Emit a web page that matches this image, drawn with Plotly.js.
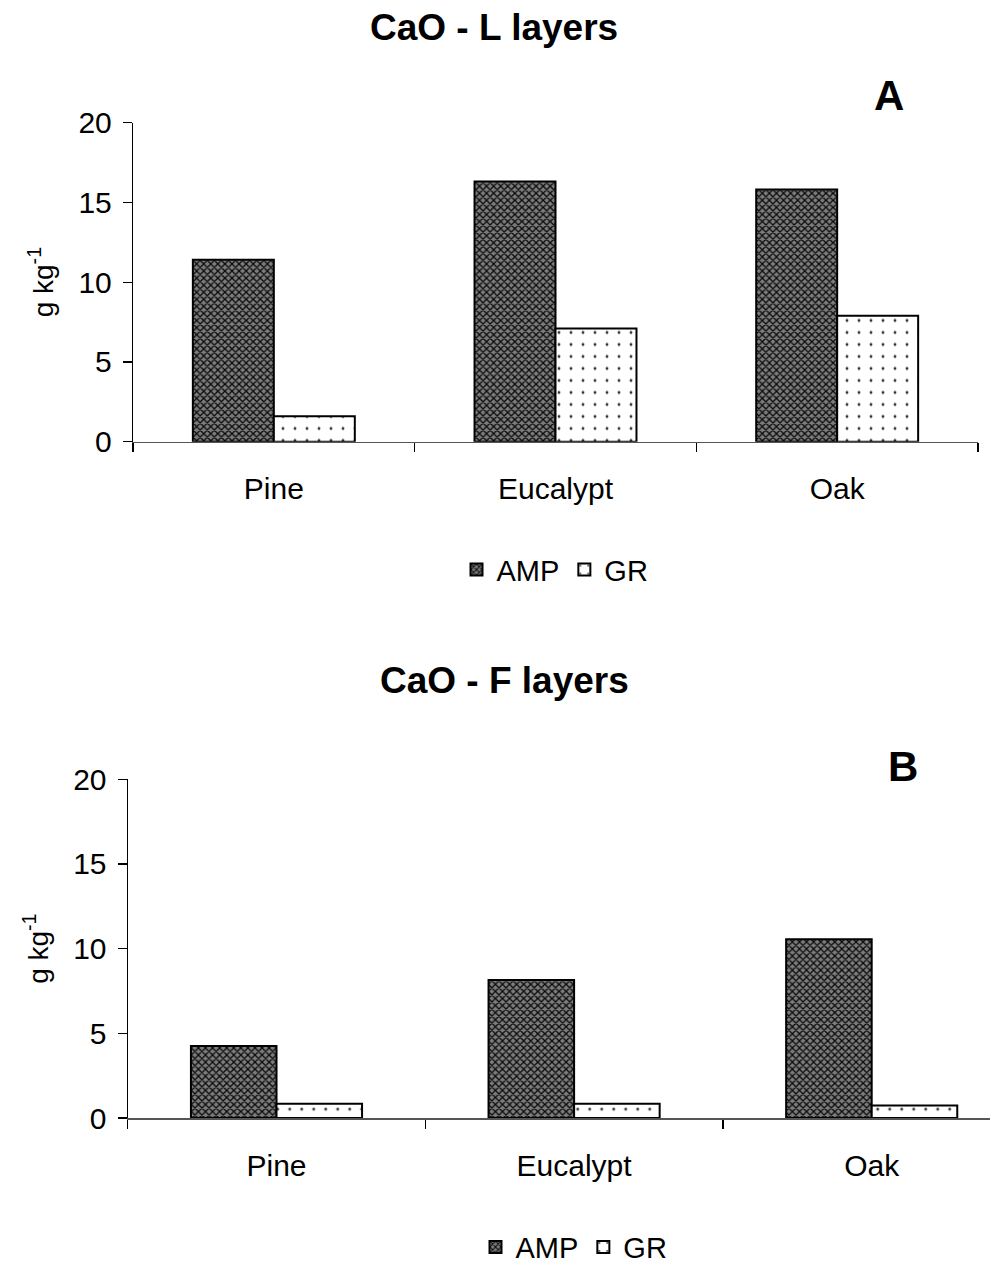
<!DOCTYPE html>
<html>
<head>
<meta charset="utf-8">
<script src="https://cdn.plot.ly/plotly-3.0.1.min.js"></script>
<style>
  html, body { margin: 0; padding: 0; background: #fff; }
  #chart { width: 990px; height: 1273px; }
</style>
</head>
<body>
<div id="chart"></div>
<script>
// Forest species and CaO content (g kg-1) in litter layers
const species = ["Pine", "Eucalypt", "Oak"];
const lAMP = [11.4, 16.3, 15.8];
const lGR = [1.6, 7.1, 7.9];
const fAMP = [4.25, 8.15, 10.55];
const fGR = [0.85, 0.85, 0.75];
const yTicks = [0, 5, 10, 15, 20];

const W = 990, H = 1273;
const FONT = "Liberation Sans, Arial, sans-serif";
const fx = p => p / W;
const fy = p => 1 - p / H;

const ampPattern = { shape: "x", bgcolor: "#7c7c7c", fgcolor: "#0a0a0a", size: 5, solidity: 0.45 };
const grPattern = { shape: ".", bgcolor: "#ffffff", fgcolor: "#333", size: 12, solidity: 0.045 };

function bar(name, y, pattern, xa, ya, legend) {
  return {
    type: "bar", name: name, x: species, y: y,
    xaxis: xa, yaxis: ya, legend: legend, showlegend: true,
    marker: { color: pattern.bgcolor, pattern: pattern, line: { color: "#000", width: 2 } },
    hoverinfo: "x+y"
  };
}

const data = [
  bar("AMP", lAMP, ampPattern, "x", "y", "legend"),
  bar("GR", lGR, grPattern, "x", "y", "legend"),
  bar("AMP", fAMP, ampPattern, "x2", "y2", "legend2"),
  bar("GR", fGR, grPattern, "x2", "y2", "legend2")
];

const xCommon = {
  type: "category", showgrid: false, zeroline: false,
  showline: true, linecolor: "#555", linewidth: 1.5,
  ticks: "outside", tickson: "boundaries", ticklen: 9, tickcolor: "#000", tickwidth: 1.5,
  ticklabelstandoff: 20,
  tickfont: { family: FONT, size: 30, color: "#000" }
};
const yCommon = {
  range: [0, 20], tickvals: yTicks, showgrid: false, zeroline: false,
  showline: true, linecolor: "#000", linewidth: 1.2,
  ticks: "outside", ticklen: 9, tickcolor: "#000", tickwidth: 1.2,
  ticklabelstandoff: 5,
  tickfont: { family: FONT, size: 30, color: "#000" },
  title: { text: "g kg<sup>-1</sup>", font: { family: FONT, size: 28, color: "#000" }, standoff: 16 }
};

// panel B category width, extended past the right edge of the page
const bLeft = 127.7, bStep = 297.6;

const layout = {
  width: W, height: H,
  margin: { l: 0, r: 0, t: 0, b: 0 },
  paper_bgcolor: "#fff", plot_bgcolor: "#fff",
  barmode: "group", bargap: 0.425, bargroupgap: 0,
  font: { family: FONT, color: "#000" },
  xaxis: Object.assign({}, xCommon, { domain: [fx(133), fx(978)], anchor: "y", range: [-0.5, 2.5] }),
  yaxis: Object.assign({}, yCommon, { domain: [fy(443.5), fy(123)], anchor: "x" }),
  xaxis2: Object.assign({}, xCommon, { domain: [fx(bLeft), 1], anchor: "y2", range: [-0.5, (W - bLeft) / bStep - 0.5] }),
  yaxis2: Object.assign({}, yCommon, { domain: [fy(1122.5), fy(782.3)], anchor: "x2" }),
  legend: {
    orientation: "h", x: fx(555), xanchor: "center", y: fy(572), yanchor: "middle",
    font: { family: FONT, size: 29, color: "#000" }, bgcolor: "rgba(0,0,0,0)", itemwidth: 30
  },
  legend2: {
    orientation: "h", x: fx(574), xanchor: "center", y: fy(1252), yanchor: "middle",
    font: { family: FONT, size: 29, color: "#000" }, bgcolor: "rgba(0,0,0,0)", itemwidth: 30
  },
  annotations: [
    { text: "<b>CaO - L layers</b>", x: fx(494), y: fy(28), xref: "paper", yref: "paper",
      xanchor: "center", yanchor: "middle", showarrow: false, font: { family: FONT, size: 37, color: "#000" } },
    { text: "<b>CaO - F layers</b>", x: fx(505), y: fy(683), xref: "paper", yref: "paper",
      xanchor: "center", yanchor: "middle", showarrow: false, font: { family: FONT, size: 37, color: "#000" } },
    { text: "<b>A</b>", x: fx(889), y: fy(96), xref: "paper", yref: "paper",
      xanchor: "center", yanchor: "middle", showarrow: false, font: { family: FONT, size: 42, color: "#000" } },
    { text: "<b>B</b>", x: fx(903), y: fy(770), xref: "paper", yref: "paper",
      xanchor: "center", yanchor: "middle", showarrow: false, font: { family: FONT, size: 42, color: "#000" } }
  ]
};

Plotly.newPlot("chart", data, layout, { displayModeBar: false, staticPlot: true });
</script>
</body>
</html>
